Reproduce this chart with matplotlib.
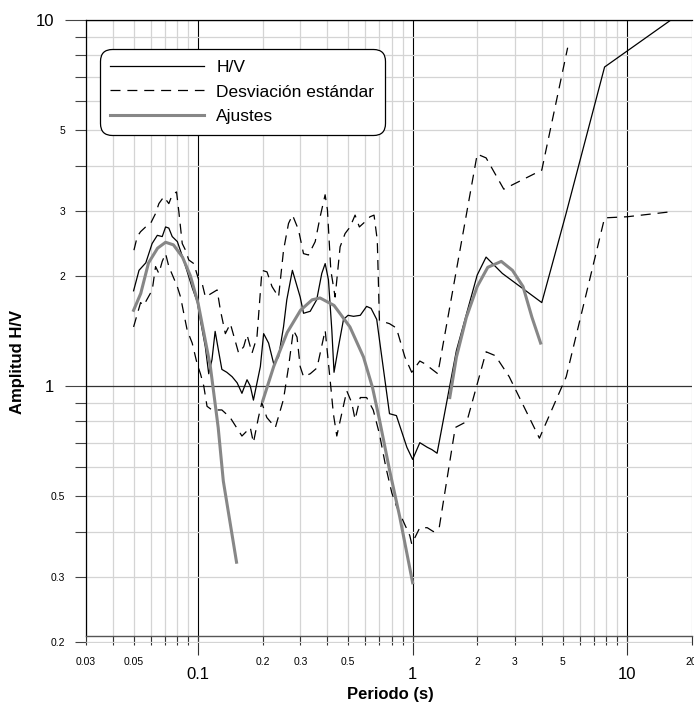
import matplotlib
matplotlib.use("Agg")
import matplotlib.pyplot as plt
from matplotlib.ticker import FixedLocator, FixedFormatter

plt.rcParams['font.family'] = ['Liberation Sans', 'DejaVu Sans']

# H/V curve (period in s, amplitude)
hv_t = [0.050, 0.053, 0.057, 0.061, 0.0645, 0.068, 0.0705, 0.073, 0.0757, 0.080,
        0.084, 0.089, 0.094, 0.099, 0.1025, 0.108, 0.112, 0.116, 0.120, 0.125,
        0.129, 0.136, 0.144, 0.152, 0.160, 0.169, 0.175, 0.181, 0.195, 0.202,
        0.213, 0.225, 0.237, 0.250, 0.259, 0.275, 0.299, 0.310, 0.333, 0.357,
        0.377, 0.391, 0.405, 0.420, 0.430, 0.451, 0.476, 0.500, 0.530, 0.570,
        0.610, 0.640, 0.680, 0.700, 0.780, 0.840, 0.940, 1.000, 1.080, 1.170,
        1.230, 1.300, 1.600, 2.000, 2.200, 2.620, 4.000, 5.200, 7.850, 16.0]
hv_a = [1.82, 2.07, 2.17, 2.45, 2.58, 2.56, 2.72, 2.70, 2.56, 2.48,
        2.28, 2.05, 1.85, 1.70, 1.51, 1.28, 1.08, 1.18, 1.41, 1.23,
        1.11, 1.09, 1.06, 1.02, 0.955, 1.04, 1.00, 0.915, 1.13, 1.39,
        1.31, 1.15, 1.20, 1.45, 1.72, 2.07, 1.75, 1.58, 1.60, 1.72,
        2.03, 2.16, 1.95, 1.42, 1.09, 1.28, 1.52, 1.56, 1.55, 1.56,
        1.65, 1.63, 1.52, 1.34, 0.84, 0.83, 0.68, 0.63, 0.70, 0.68,
        0.67, 0.655, 1.25, 2.01, 2.25, 2.03, 1.69, 2.97, 7.44, 10.0]

# H/V + desviacion estandar
up_t = [0.0502, 0.0520, 0.0539, 0.0569, 0.0600, 0.0633, 0.0656, 0.0692, 0.0730, 0.0757,
        0.0793, 0.0813, 0.0843, 0.0873, 0.0904, 0.0954, 0.1006, 0.1043, 0.1081, 0.1226,
        0.1270, 0.1339, 0.1413, 0.1544, 0.1630, 0.1690, 0.1783, 0.1880, 0.1984, 0.2094,
        0.2209, 0.2371, 0.2501, 0.2638, 0.2754, 0.2937, 0.3098, 0.3268, 0.3513, 0.3705,
        0.3908, 0.4006, 0.4155, 0.4351, 0.4590, 0.4843, 0.5109, 0.5390, 0.5644, 0.5999,
        0.6328, 0.6607, 0.6842, 0.70, 0.78, 0.84, 0.92, 0.99, 1.08, 1.14,
        1.31, 2.0, 2.2, 2.66, 4.0, 5.28]
up_a = [2.35, 2.56, 2.64, 2.72, 2.78, 2.96, 3.15, 3.29, 3.15, 3.33,
        3.39, 2.99, 2.45, 2.35, 2.21, 2.16, 1.95, 1.91, 1.75, 1.83,
        1.61, 1.39, 1.48, 1.23, 1.28, 1.38, 1.23, 1.36, 2.07, 2.05,
        1.87, 1.75, 2.35, 2.78, 2.93, 2.67, 2.30, 2.28, 2.48, 2.90,
        3.33, 3.03, 2.07, 1.75, 2.40, 2.61, 2.72, 2.93, 2.72, 2.81,
        2.90, 2.93, 2.50, 1.51, 1.48, 1.44, 1.20, 1.09, 1.17, 1.15,
        1.08, 4.30, 4.20, 3.45, 3.89, 8.40]

# H/V - desviacion estandar
lo_t = [0.050, 0.0539, 0.0557, 0.0611, 0.0633, 0.0656, 0.0680, 0.0705, 0.0730, 0.0799,
        0.0828, 0.0857, 0.0889, 0.0938, 0.0989, 0.1025, 0.1062, 0.110, 0.116, 0.129,
        0.141, 0.160, 0.175, 0.181, 0.191, 0.198, 0.209, 0.229, 0.250, 0.264,
        0.278, 0.289, 0.299, 0.310, 0.333, 0.358, 0.391, 0.415, 0.427, 0.443,
        0.467, 0.493, 0.520, 0.539, 0.570, 0.610, 0.655, 0.700, 0.750, 0.800,
        0.840, 0.970, 0.990, 1.08, 1.17, 1.25, 1.33, 1.58, 1.79, 2.20,
        2.43, 2.82, 3.90, 5.20, 7.85, 10.0, 15.8]
lo_a = [1.45, 1.69, 1.66, 1.83, 2.12, 2.03, 2.19, 2.30, 2.12, 1.87,
        1.75, 1.58, 1.42, 1.31, 1.15, 1.08, 1.00, 0.88, 0.86, 0.86,
        0.82, 0.73, 0.77, 0.70, 0.82, 0.90, 0.82, 0.77, 0.92, 1.13,
        1.42, 1.36, 1.13, 1.06, 1.08, 1.12, 1.42, 1.00, 0.84, 0.73,
        0.84, 0.97, 0.90, 0.81, 0.93, 0.93, 0.86, 0.74, 0.60, 0.51,
        0.47, 0.39, 0.37, 0.41, 0.41, 0.40, 0.41, 0.77, 0.80, 1.24,
        1.21, 1.06, 0.72, 1.06, 2.88, 2.90, 2.99]

# ajustes
fit1_t = [0.050, 0.054, 0.0587, 0.0647, 0.0705, 0.0767, 0.0845, 0.092, 0.100, 0.114, 0.124, 0.131, 0.151]
fit1_a = [1.61, 1.79, 2.17, 2.38, 2.47, 2.43, 2.25, 2.00, 1.68, 1.13, 0.77, 0.55, 0.33]
fit2_t = [0.200, 0.225, 0.260, 0.300, 0.340, 0.370, 0.430, 0.510, 0.590, 0.650, 0.700, 0.780, 0.870, 1.000]
fit2_a = [0.91, 1.13, 1.40, 1.61, 1.72, 1.74, 1.66, 1.45, 1.20, 0.99, 0.81, 0.59, 0.44, 0.29]
fit3_t = [1.49, 1.60, 1.78, 2.00, 2.24, 2.59, 2.92, 3.27, 3.60, 3.95]
fit3_a = [0.93, 1.20, 1.54, 1.87, 2.11, 2.19, 2.07, 1.87, 1.54, 1.31]

x_minor = [0.03, 0.04, 0.05, 0.06, 0.07, 0.08, 0.09, 0.2, 0.3, 0.4, 0.5, 0.6, 0.7, 0.8, 0.9,
           2, 3, 4, 5, 6, 7, 8, 9, 20]
x_minor_lbl = {0.03: '0.03', 0.05: '0.05', 0.2: '0.2', 0.3: '0.3', 0.5: '0.5',
               2: '2', 3: '3', 5: '5', 20: '20'}
y_minor = [0.2, 0.3, 0.4, 0.5, 0.6, 0.7, 0.8, 0.9, 2, 3, 4, 5, 6, 7, 8, 9]
y_minor_lbl = {0.2: '0.2', 0.3: '0.3', 0.5: '0.5', 2: '2', 3: '3', 5: '5'}

fig = plt.figure(figsize=(6.94, 7.02), dpi=100)
ax = fig.add_axes([86 / 694, 1 - 643.4 / 702, 605.7 / 694, 623.4 / 702])
ax.set_xscale('log')
ax.set_yscale('log')
ax.set_xlim(0.03, 20)
ax.set_ylim(0.198, 10)

ax.xaxis.set_major_locator(FixedLocator([0.1, 1, 10]))
ax.xaxis.set_major_formatter(FixedFormatter(['0.1', '1', '10']))
ax.xaxis.set_minor_locator(FixedLocator(x_minor))
ax.xaxis.set_minor_formatter(FixedFormatter([x_minor_lbl.get(v, '') for v in x_minor]))
ax.yaxis.set_major_locator(FixedLocator([1, 10]))
ax.yaxis.set_major_formatter(FixedFormatter(['1', '10']))
ax.yaxis.set_minor_locator(FixedLocator(y_minor))
ax.yaxis.set_minor_formatter(FixedFormatter([y_minor_lbl.get(v, '') for v in y_minor]))

ax.tick_params(axis='x', which='major', direction='out', length=13.7, width=0.8,
               pad=8.5, labelsize=12, color='#333333')
ax.tick_params(axis='x', which='minor', direction='out', length=6.5, width=0.8,
               pad=8.5, labelsize=7.5, color='#333333')
ax.tick_params(axis='y', which='major', direction='out', length=15, width=0.8,
               pad=8, labelsize=12, color='#444444')
ax.tick_params(axis='y', which='minor', direction='out', length=8, width=0.8,
               pad=7, labelsize=7.5, color='#444444')

ax.set_axisbelow(True)
ax.grid(which='minor', color='#d4d4d4', lw=0.9)
ax.xaxis.grid(which='major', color='black', lw=0.8)
ax.yaxis.grid(which='major', color='#333333', lw=0.9)

ax.spines['right'].set_visible(False)
ax.spines['top'].set_linewidth(0.9)
ax.spines['left'].set_linewidth(0.9)
ax.spines['bottom'].set_position(('data', 0.2074))
ax.spines['bottom'].set_color('#555555')
ax.spines['bottom'].set_linewidth(1.0)
ax.spines['left'].set_bounds(0.2074, 10)

ax.plot(hv_t, hv_a, color='black', lw=0.9, label='H/V')
ax.plot(up_t, up_a, color='black', lw=0.9, dashes=(8, 5.5), label='Desviación estándar')
ax.plot(lo_t, lo_a, color='black', lw=0.9, dashes=(8, 5.5))
ax.plot(fit1_t, fit1_a, color='#878787', lw=2.2, label='Ajustes')
ax.plot(fit2_t, fit2_a, color='#878787', lw=2.2)
ax.plot(fit3_t, fit3_a, color='#878787', lw=2.2)

leg = ax.legend(loc='upper left', bbox_to_anchor=(0.023, 0.953), fontsize=12.5,
                handlelength=5.4, handletextpad=0.7, labelspacing=0.55,
                borderpad=0.6, borderaxespad=0, fancybox=True, framealpha=1,
                edgecolor='black')
leg.get_frame().set_linewidth(0.9)
leg.get_frame().set_boxstyle('round', pad=0, rounding_size=0.7)

fig.text(18 / 694, 1 - 362 / 702, 'Amplitud H/V', rotation=90, ha='center', va='center',
         fontsize=12, fontweight='bold')
fig.text(390 / 694, 1 - 694 / 702, 'Periodo (s)', ha='center', va='center',
         fontsize=12, fontweight='bold')

fig.savefig('out.png', dpi=100)
